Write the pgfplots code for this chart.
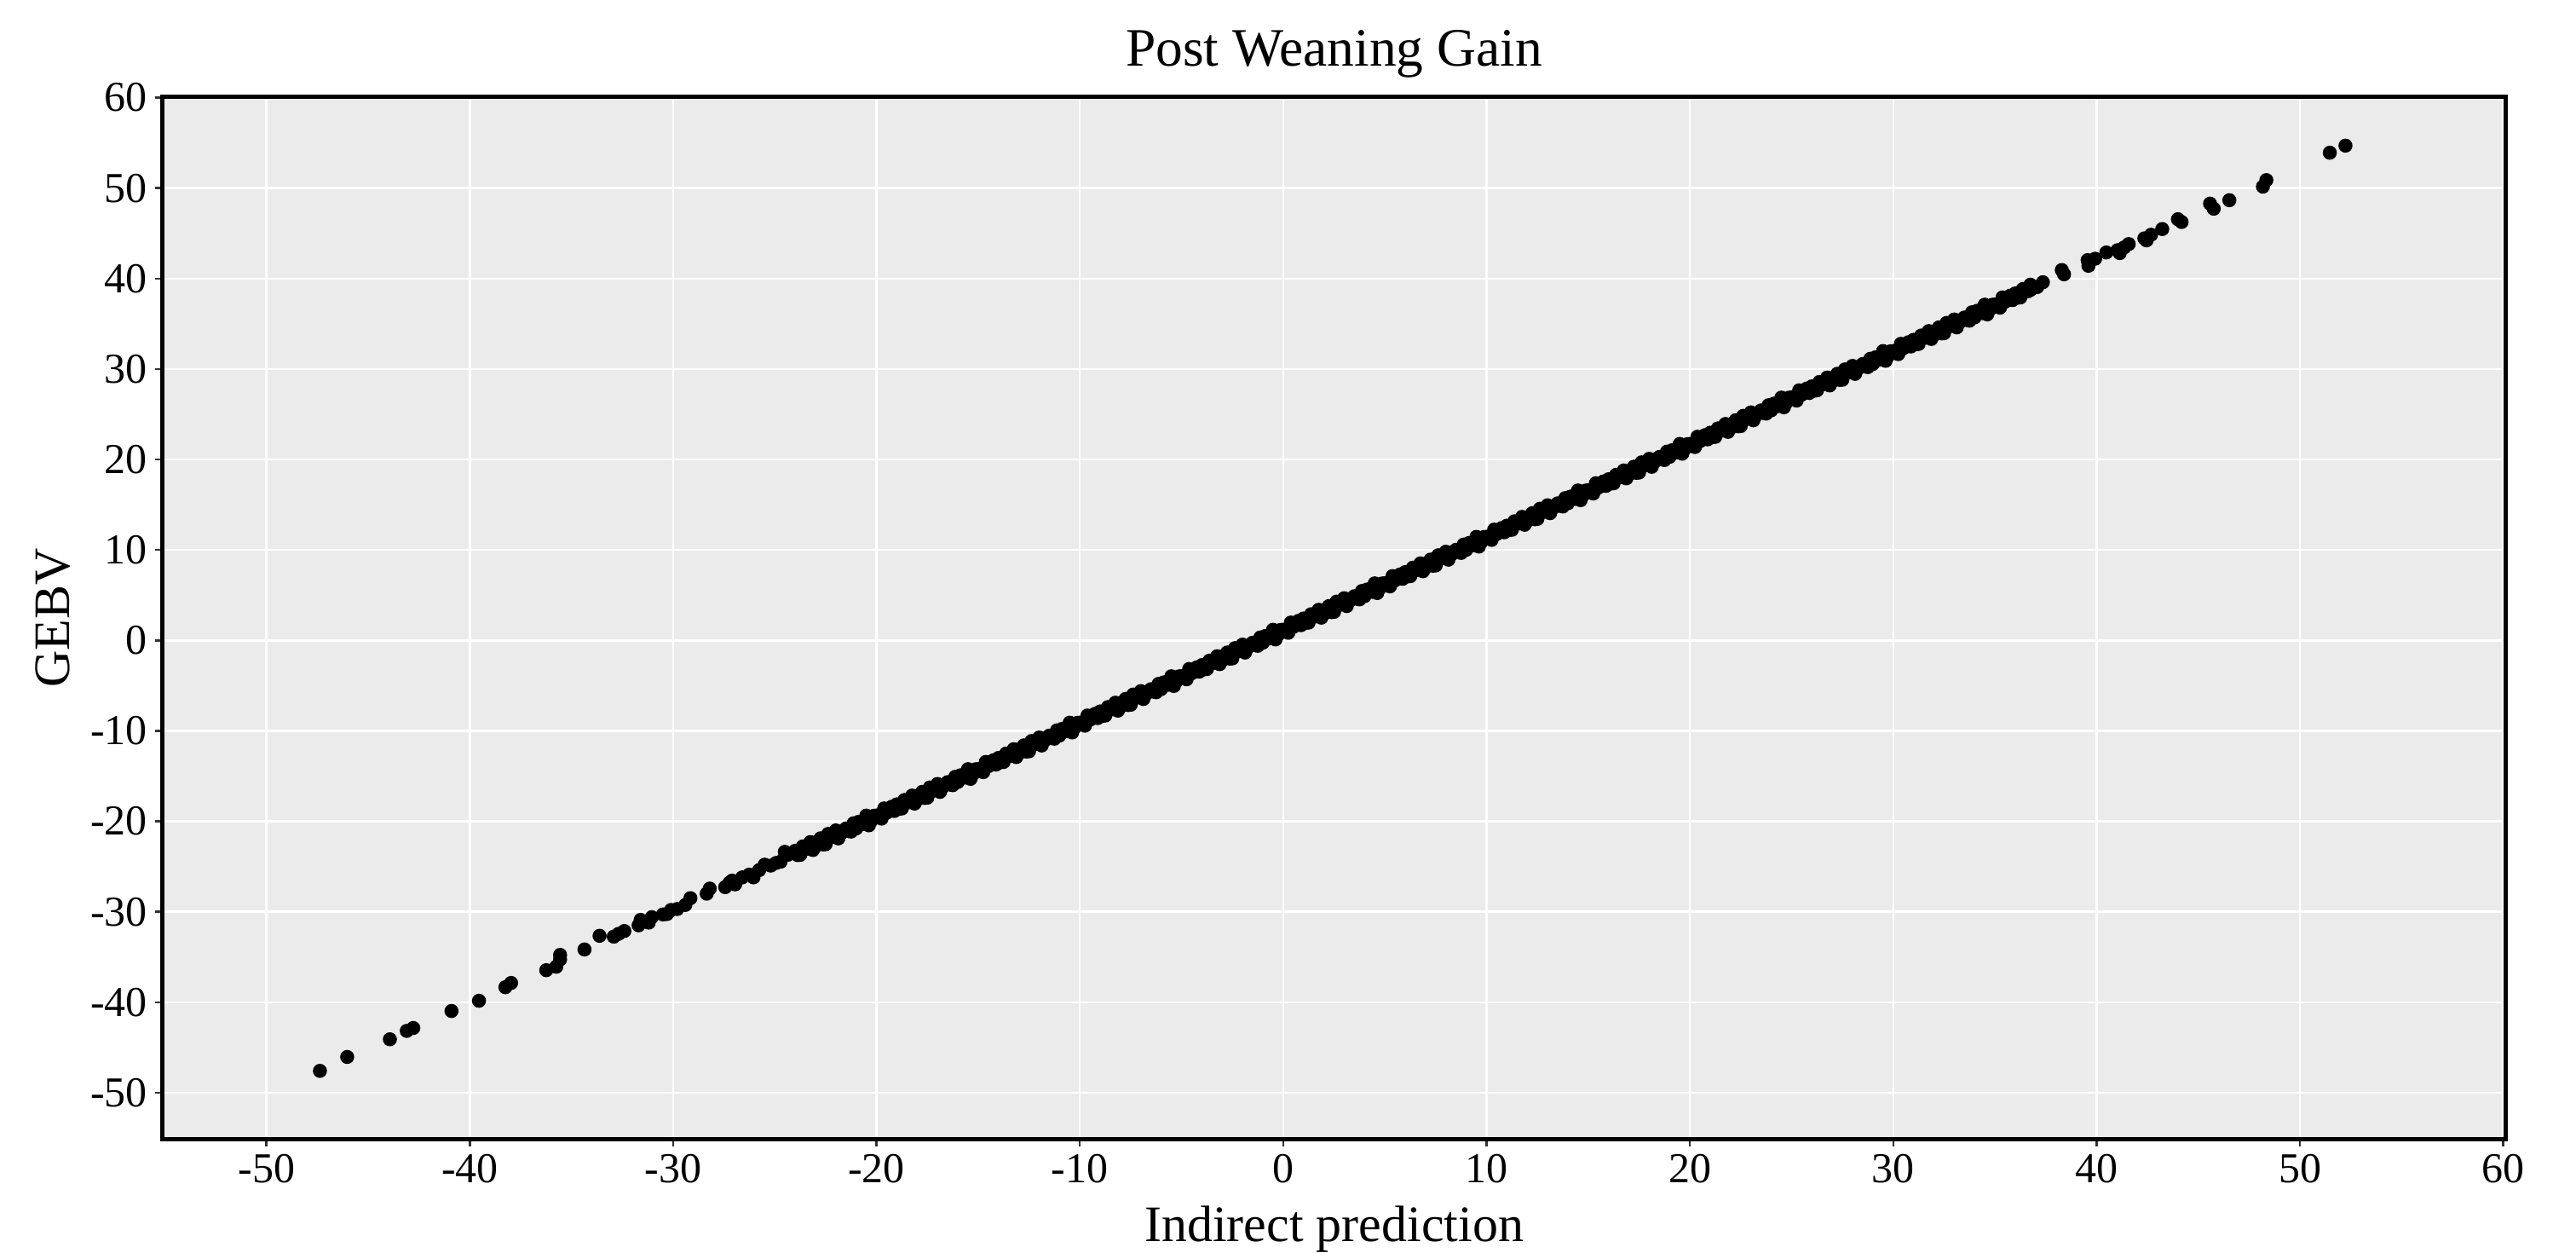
\documentclass[border=0pt]{standalone}
\usepackage{fontspec}
\setmainfont{Liberation Serif}
\usepackage{pgfplots}
\pgfplotsset{compat=1.18}
\definecolor{panel}{HTML}{EBEBEB}
\definecolor{tickgray}{HTML}{333333}
\pgfplotsset{pt/.style={only marks, mark=*, mark size=1.45pt, black, mark options={fill=black, draw=black}}}

\begin{document}
\begin{tikzpicture}
\begin{axis}[
  scale only axis,
  width=549.8pt,
  height=244.4pt,
  xmin=-55.1, xmax=60.1,
  ymin=-55.1, ymax=60.05,
  xtick={-50,-40,...,60},
  ytick={-50,-40,...,60},
  xtick pos=bottom,
  ytick pos=left,
  tick align=outside,
  major tick length=1.7pt,
  major tick style={line width=0.5pt, tickgray},
  axis line style={black, line width=1pt},
  axis background/.style={fill=panel},
  grid=major,
  grid style={white, line width=0.5pt},
  /pgf/number format/assume math mode=true,
  ticklabel style={font=\fontsize{10}{12}\selectfont, inner sep=1.7pt, text=black},
  every axis title shift=0pt,
  title={Post Weaning Gain},
  title style={font=\fontsize{12.7}{15}\selectfont, at={(axis description cs:0.5,1.0295)}, anchor=base},
  xlabel={Indirect prediction},
  xlabel style={font=\fontsize{12}{14}\selectfont, at={(axis description cs:0.5,-0.0985)}, anchor=base},
  ylabel={GEBV},
  ylabel style={font=\fontsize{12}{14}\selectfont, at={(axis description cs:-0.0397,0.5)}, anchor=base},
]
% sparse lower tail
\addplot[pt] coordinates {
(-47.37,-47.59) (-46.03,-46.05) (-43.93,-44.10) (-43.10,-43.17) (-42.78,-42.85)
(-40.90,-40.97) (-39.55,-39.84) (-38.25,-38.34) (-37.97,-37.87) (-36.24,-36.46)
(-35.75,-36.08) (-35.56,-35.27) (-35.56,-34.77) (-34.36,-34.17) (-33.62,-32.66)
(-32.92,-32.75) (-32.68,-32.44) (-32.40,-32.13) (-31.70,-31.50) (-31.60,-30.90)
(-31.20,-31.20) (-31.05,-30.60) (-30.50,-30.30) (-30.30,-30.25) (-30.10,-29.80)
(-29.80,-29.70) (-29.40,-29.25) (-29.15,-28.50) (-28.35,-28.00) (-28.20,-27.44)
(-27.44,-27.28) (-27.23,-26.80) (-26.95,-26.97) (-27.10,-26.56) (-26.60,-26.20)
(-26.26,-25.90) (-26.05,-26.20) (-25.77,-25.40) (-25.50,-24.80) (-25.20,-24.90)
(-24.93,-24.60) (-24.72,-24.47) (-24.51,-23.38) (-24.35,-23.70)
};
% dense band, first row
\addplot[pt] coordinates {
(-24,-23.27) (-23.75,-23.71) (-23.5,-22.95) (-23.25,-22.30)
(-23,-22.74) (-22.75,-21.88) (-22.5,-22.53) (-22.25,-21.77)
(-22,-21.01) (-21.75,-21.36) (-21.5,-20.80) (-21.25,-21.14)
(-21,-20.79) (-20.75,-20.03) (-20.5,-19.37) (-20.25,-19.92)
(-20,-19.36) (-19.75,-19.70) (-19.5,-19.05) (-19.25,-18.39)
(-19,-18.13) (-18.75,-18.58) (-18.5,-17.82) (-18.25,-17.16)
(-18,-17.61) (-17.75,-16.75) (-17.5,-17.39) (-17.25,-16.64)
(-17,-15.88) (-16.75,-16.22) (-16.5,-15.67) (-16.25,-16.01)
(-16,-15.65) (-15.75,-14.90) (-15.5,-14.24) (-15.25,-14.78)
(-15,-14.23) (-14.75,-14.57) (-14.5,-13.91) (-14.25,-13.26)
(-14,-13.00) (-13.75,-13.44) (-13.5,-12.68) (-13.25,-12.03)
(-13,-12.47) (-12.75,-11.61) (-12.5,-12.26) (-12.25,-11.50)
(-12,-10.74) (-11.75,-11.09) (-11.5,-10.53) (-11.25,-10.87)
(-11,-10.52) (-10.75,-9.76) (-10.5,-9.10) (-10.25,-9.65)
(-10,-9.09) (-9.75,-9.43) (-9.5,-8.78) (-9.25,-8.12)
(-9,-7.86) (-8.75,-8.31) (-8.5,-7.55) (-8.25,-6.89)
(-8,-7.34) (-7.75,-6.48) (-7.5,-7.12) (-7.25,-6.37)
(-7,-5.61) (-6.75,-5.95) (-6.5,-5.40) (-6.25,-5.74)
(-6,-5.38) (-5.75,-4.63) (-5.5,-3.97) (-5.25,-4.51)
(-5,-3.96) (-4.75,-4.30) (-4.5,-3.64) (-4.25,-2.99)
(-4,-2.73) (-3.75,-3.17) (-3.5,-2.41) (-3.25,-1.76)
(-3,-2.20) (-2.75,-1.34) (-2.5,-1.99) (-2.25,-1.23)
(-2,-0.47) (-1.75,-0.82) (-1.5,-0.26) (-1.25,-0.60)
(-1,-0.25) (-0.75,0.51) (-0.5,1.17) (-0.25,0.62)
(0,1.18) (0.25,0.84) (0.5,1.49) (0.75,2.15)
(1,2.41) (1.25,1.96) (1.5,2.72) (1.75,3.38)
(2,2.93) (2.25,3.79) (2.5,3.15) (2.75,3.90)
(3,4.66) (3.25,4.32) (3.5,4.88) (3.75,4.53)
(4,4.89) (4.25,5.65) (4.5,6.30) (4.75,5.76)
(5,6.32) (5.25,5.97) (5.5,6.63) (5.75,7.29)
(6,7.54) (6.25,7.10) (6.5,7.86) (6.75,8.51)
(7,8.07) (7.25,8.93) (7.5,8.28) (7.75,9.04)
(8,9.80) (8.25,9.45) (8.5,10.01) (8.75,9.67)
(9,10.02) (9.25,10.78) (9.5,11.44) (9.75,10.89)
(10,11.45) (10.25,11.11) (10.5,11.76) (10.75,12.42)
(11,12.68) (11.25,12.23) (11.5,12.99) (11.75,13.65)
(12,13.20) (12.25,14.06) (12.5,13.42) (12.75,14.17)
(13,14.93) (13.25,14.59) (13.5,15.15) (13.75,14.80)
(14,15.16) (14.25,15.92) (14.5,16.57) (14.75,16.03)
(15,16.59) (15.25,16.24) (15.5,16.90) (15.75,17.56)
(16,17.81) (16.25,17.37) (16.5,18.13) (16.75,18.78)
(17,18.34) (17.25,19.20) (17.5,18.55) (17.75,19.31)
(18,20.07) (18.25,19.72) (18.5,20.28) (18.75,19.94)
(19,20.29) (19.25,21.05) (19.5,21.71) (19.75,21.16)
(20,21.72) (20.25,21.38) (20.5,22.03) (20.75,22.69)
(21,22.95) (21.25,22.50) (21.5,23.26) (21.75,23.92)
(22,23.47) (22.25,24.33) (22.5,23.69) (22.75,24.44)
(23,25.20) (23.25,24.86) (23.5,25.42) (23.75,25.07)
(24,25.43) (24.25,26.19) (24.5,26.84) (24.75,26.30)
(25,26.86) (25.25,26.51) (25.5,27.17) (25.75,27.83)
(26,28.08) (26.25,27.64) (26.5,28.40) (26.75,29.05)
(27,28.61) (27.25,29.47) (27.5,28.82) (27.75,29.58)
(28,30.34) (28.25,29.99) (28.5,30.55) (28.75,30.21)
(29,30.56) (29.25,31.32) (29.5,31.98) (29.75,31.43)
(30,31.99) (30.25,31.65) (30.5,32.30) (30.75,32.96)
(31,33.22) (31.25,32.77) (31.5,33.53) (31.75,34.19)
(32,33.74) (32.25,34.60) (32.5,33.96) (32.75,34.71)
(33,35.47) (33.25,35.13) (33.5,35.69) (33.75,35.34)
(34,35.70) (34.25,36.46) (34.5,37.11) (34.75,36.57)
(35,37.13) (35.25,36.78) (35.5,37.44) (35.75,38.10)
(36,38.35) (36.25,37.91) (36.5,38.67) (36.75,39.32)
};
% dense band, second row
\addplot[pt] coordinates {
(-23.875,-23.74) (-23.625,-22.78) (-23.375,-23.03) (-23.125,-23.17)
(-22.875,-22.21) (-22.625,-22.56) (-22.375,-21.40) (-22.125,-21.64)
(-21.875,-21.89) (-21.625,-21.03) (-21.375,-21.07) (-21.125,-20.22)
(-20.875,-20.06) (-20.625,-20.30) (-20.375,-20.45) (-20.125,-19.39)
(-19.875,-19.43) (-19.625,-18.58) (-19.375,-18.72) (-19.125,-18.86)
(-18.875,-18.61) (-18.625,-17.65) (-18.375,-17.89) (-18.125,-18.04)
(-17.875,-17.08) (-17.625,-17.42) (-17.375,-16.26) (-17.125,-16.51)
(-16.875,-16.75) (-16.625,-15.89) (-16.375,-15.94) (-16.125,-15.08)
(-15.875,-14.92) (-15.625,-15.17) (-15.375,-15.31) (-15.125,-14.25)
(-14.875,-14.30) (-14.625,-13.44) (-14.375,-13.58) (-14.125,-13.73)
(-13.875,-13.47) (-13.625,-12.51) (-13.375,-12.76) (-13.125,-12.90)
(-12.875,-11.94) (-12.625,-12.29) (-12.375,-11.13) (-12.125,-11.37)
(-11.875,-11.62) (-11.625,-10.76) (-11.375,-10.80) (-11.125,-9.95)
(-10.875,-9.79) (-10.625,-10.03) (-10.375,-10.18) (-10.125,-9.12)
(-9.875,-9.16) (-9.625,-8.31) (-9.375,-8.45) (-9.125,-8.59)
(-8.875,-8.34) (-8.625,-7.38) (-8.375,-7.62) (-8.125,-7.77)
(-7.875,-6.81) (-7.625,-7.15) (-7.375,-5.99) (-7.125,-6.24)
(-6.875,-6.48) (-6.625,-5.62) (-6.375,-5.67) (-6.125,-4.81)
(-5.875,-4.65) (-5.625,-4.90) (-5.375,-5.04) (-5.125,-3.98)
(-4.875,-4.03) (-4.625,-3.17) (-4.375,-3.31) (-4.125,-3.46)
(-3.875,-3.20) (-3.625,-2.24) (-3.375,-2.49) (-3.125,-2.63)
(-2.875,-1.67) (-2.625,-2.02) (-2.375,-0.86) (-2.125,-1.10)
(-1.875,-1.35) (-1.625,-0.49) (-1.375,-0.53) (-1.125,0.32)
(-0.875,0.48) (-0.625,0.24) (-0.375,0.10) (-0.125,1.15)
(0.125,1.11) (0.375,1.97) (0.625,1.82) (0.875,1.68)
(1.125,1.94) (1.375,2.89) (1.625,2.65) (1.875,2.51)
(2.125,3.46) (2.375,3.12) (2.625,4.28) (2.875,4.03)
(3.125,3.79) (3.375,4.65) (3.625,4.60) (3.875,5.46)
(4.125,5.62) (4.375,5.37) (4.625,5.23) (4.875,6.29)
(5.125,6.24) (5.375,7.10) (5.625,6.96) (5.875,6.81)
(6.125,7.07) (6.375,8.03) (6.625,7.78) (6.875,7.64)
(7.125,8.60) (7.375,8.25) (7.625,9.41) (7.875,9.17)
(8.125,8.92) (8.375,9.78) (8.625,9.74) (8.875,10.59)
(9.125,10.75) (9.375,10.51) (9.625,10.37) (9.875,11.42)
(10.125,11.38) (10.375,12.24) (10.625,12.09) (10.875,11.95)
(11.125,12.21) (11.375,13.16) (11.625,12.92) (11.875,12.78)
(12.125,13.73) (12.375,13.39) (12.625,14.55) (12.875,14.30)
(13.125,14.06) (13.375,14.92) (13.625,14.87) (13.875,15.73)
(14.125,15.89) (14.375,15.64) (14.625,15.50) (14.875,16.56)
(15.125,16.51) (15.375,17.37) (15.625,17.23) (15.875,17.08)
(16.125,17.34) (16.375,18.30) (16.625,18.05) (16.875,17.91)
(17.125,18.87) (17.375,18.52) (17.625,19.68) (17.875,19.44)
(18.125,19.19) (18.375,20.05) (18.625,20.01) (18.875,20.86)
(19.125,21.02) (19.375,20.78) (19.625,20.64) (19.875,21.69)
(20.125,21.65) (20.375,22.51) (20.625,22.36) (20.875,22.22)
(21.125,22.48) (21.375,23.43) (21.625,23.19) (21.875,23.05)
(22.125,24.00) (22.375,23.66) (22.625,24.82) (22.875,24.57)
(23.125,24.33) (23.375,25.19) (23.625,25.14) (23.875,26.00)
(24.125,26.16) (24.375,25.91) (24.625,25.77) (24.875,26.83)
(25.125,26.78) (25.375,27.64) (25.625,27.50) (25.875,27.35)
(26.125,27.61) (26.375,28.57) (26.625,28.32) (26.875,28.18)
(27.125,29.14) (27.375,28.79) (27.625,29.95) (27.875,29.71)
(28.125,29.46) (28.375,30.32) (28.625,30.28) (28.875,31.13)
(29.125,31.29) (29.375,31.05) (29.625,30.91) (29.875,31.96)
(30.125,31.92) (30.375,32.78) (30.625,32.63) (30.875,32.49)
(31.125,32.75) (31.375,33.70) (31.625,33.46) (31.875,33.32)
(32.125,34.27) (32.375,33.93) (32.625,35.09) (32.875,34.84)
(33.125,34.60) (33.375,35.46) (33.625,35.41) (33.875,36.27)
(34.125,36.43) (34.375,36.18) (34.625,36.04) (34.875,37.10)
(35.125,37.05) (35.375,37.91) (35.625,37.77) (35.875,37.62)
(36.125,37.88) (36.375,38.84) (36.625,38.59)
};
% sparse upper tail
\addplot[pt] coordinates {
(36.75,38.75) (37.08,39.06) (37.36,39.59) (38.29,40.94) (38.40,40.47)
(39.56,42.03) (39.60,41.41) (39.93,42.19) (40.48,42.88) (41.03,43.13)
(41.14,42.81) (41.36,43.44) (41.58,43.81) (42.35,44.44) (42.46,44.22)
(42.68,44.84) (43.23,45.47) (44.00,46.56) (44.18,46.25) (45.58,48.28)
(45.76,47.72) (46.53,48.66) (48.18,50.16) (48.35,50.88) (51.47,53.91)
(52.24,54.69)
};
\coordinate (sw) at (rel axis cs:0,0);
\coordinate (ne) at (rel axis cs:1,1);
\end{axis}
\pgfresetboundingbox
\path ([shift={(-38.2pt,-26.6pt)}]sw) rectangle ([shift={(16.6pt,22.8pt)}]ne);
\end{tikzpicture}
\end{document}
